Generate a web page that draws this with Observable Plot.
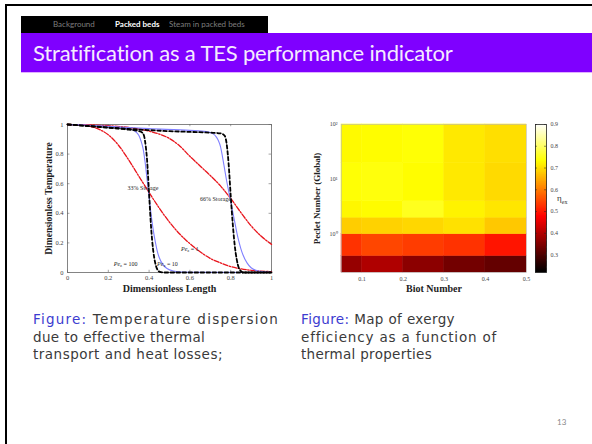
<!DOCTYPE html>
<html><head><meta charset="utf-8">
<script src="https://cdn.jsdelivr.net/npm/d3@7"></script>
<script src="https://cdn.jsdelivr.net/npm/@observablehq/plot@0.6"></script>
<style>
html,body{margin:0;padding:0;background:#fff;}
#slide{position:relative;width:592px;height:444px;overflow:hidden;background:#fff;font-family:Lato,"DejaVu Sans",sans-serif;}
.abs{position:absolute;white-space:nowrap;}
#border{left:5px;top:4px;width:620px;height:480px;border-left:2px solid #000;border-top:2px solid #000;}
#crumb{left:21px;top:16px;width:247px;height:17px;background:#000;font-size:8px;line-height:17px;color:#7d7d7d;}
#crumb span{position:absolute;top:0;}
#band{left:21px;top:33px;width:600px;height:39px;background:#7f00ff;border-bottom:1px solid #e0b0ff;}
#title{left:33px;top:42px;color:#f5eaff;font-size:22px;line-height:22px;}
.cap{font-family:"DejaVu Sans",sans-serif;font-size:13.5px;line-height:17.5px;color:#3a3a3a;}
.fig{color:#3c3cd0;}
#pagenum{left:557px;top:417px;font-size:8px;color:#888;}
#eta{left:557px;top:193px;font-family:"Liberation Serif",serif;font-size:9px;color:#333;}
#eta sub{font-size:6px;}
svg{position:absolute;}
</style>
</head><body>
<div id="slide">
  <div id="border" class="abs"></div>
  <div id="crumb" class="abs"><span style="left:32px">Background</span><span style="left:94px;color:#fff;font-weight:bold">Packed beds</span><span style="left:148px">Steam in packed beds</span></div>
  <div id="band" class="abs"></div>
  <div id="title" class="abs">Stratification as a TES performance indicator</div>
  <div id="c1" class="abs cap" style="left:33px;top:311px"><div class="l" data-w="246"><span class="fig">Figure:</span> Temperature dispersion</div><div class="l" data-w="172">due to effective thermal</div><div class="l" data-w="190">transport and heat losses;</div></div>
  <div id="c2" class="abs cap" style="left:301px;top:311px"><div class="l" data-w="154"><span class="fig">Figure:</span> Map of exergy</div><div class="l" data-w="196">efficiency as a function of</div><div class="l" data-w="131">thermal properties</div></div>
  <div id="pagenum" class="abs">13</div>
  <div id="eta" class="abs">η<sub>ex</sub></div>
</div>
<script>
// ---------- Left chart data: dimensionless temperature profiles [length, temperature] ----------
const pe1_33 = [[0,1],[0.05,0.998],[0.1,0.99],[0.15,0.97],[0.2,0.93],[0.25,0.86],[0.3,0.76],[0.35,0.65],[0.4,0.54],[0.45,0.435],[0.5,0.34],[0.55,0.26],[0.6,0.195],[0.65,0.14],[0.7,0.095],[0.75,0.065],[0.8,0.04],[0.85,0.025],[0.9,0.015],[1,0.006]];
const pe1_66 = [[0,1],[0.1,0.998],[0.2,0.992],[0.3,0.98],[0.35,0.97],[0.4,0.955],[0.45,0.935],[0.5,0.905],[0.55,0.855],[0.6,0.785],[0.65,0.72],[0.7,0.655],[0.75,0.585],[0.8,0.5],[0.85,0.405],[0.9,0.315],[0.95,0.245],[1,0.19]];
const pe10_33 = [[0,1],[0.1,0.995],[0.2,0.985],[0.3,0.97],[0.33,0.955],[0.35,0.925],[0.36,0.89],[0.37,0.84],[0.38,0.75],[0.39,0.63],[0.4,0.51],[0.41,0.39],[0.42,0.29],[0.43,0.21],[0.44,0.145],[0.45,0.1],[0.47,0.05],[0.49,0.025],[0.52,0.01],[0.56,0.003],[0.65,0.001],[1,0]];
const pe10_66 = [[0,1],[0.2,0.988],[0.4,0.972],[0.6,0.96],[0.68,0.952],[0.71,0.94],[0.73,0.915],[0.74,0.89],[0.75,0.85],[0.76,0.78],[0.77,0.7],[0.78,0.62],[0.79,0.55],[0.8,0.48],[0.81,0.41],[0.82,0.34],[0.83,0.27],[0.84,0.21],[0.85,0.16],[0.86,0.12],[0.88,0.065],[0.9,0.032],[0.93,0.012],[0.97,0.004],[1,0.002]];
const pe100_33 = [[0,1],[0.1,0.99],[0.2,0.978],[0.3,0.965],[0.35,0.955],[0.37,0.94],[0.38,0.89],[0.39,0.76],[0.4,0.53],[0.41,0.3],[0.42,0.15],[0.43,0.065],[0.44,0.022],[0.45,0.006],[0.47,0],[1,0]];
const pe100_66 = [[0,1],[0.1,0.99],[0.2,0.98],[0.3,0.97],[0.4,0.962],[0.5,0.955],[0.6,0.95],[0.7,0.945],[0.75,0.94],[0.77,0.925],[0.78,0.87],[0.79,0.73],[0.8,0.52],[0.81,0.33],[0.82,0.18],[0.83,0.085],[0.84,0.03],[0.85,0.01],[0.86,0],[1,0]];
const lenTicks = [0, 0.2, 0.4, 0.6, 0.8, 1];
const tempTicks = [0, 0.2, 0.4, 0.6, 0.8, 1];
const curveLabels = [
  {x: 0.37, y: 0.57, text: "33% Storage", anchor: "end"},
  {x: 0.725, y: 0.495, text: "66% Storage", anchor: "start"},
  {x: 0.6, y: 0.16, text: "Pe_z = 1", anchor: "start"},
  {x: 0.49, y: 0.06, text: "Pe_z = 10", anchor: "start"},
  {x: 0.285, y: 0.06, text: "Pe_z = 100", anchor: "start"}
];

// ---------- Right chart data: exergy efficiency map ----------
const biotEdges = [0.05, 0.1, 0.2, 0.3, 0.4, 0.5];
const pecletEdges = [0.2, 0.4, 1, 2, 4, 20, 100];
const effRow1 = [0.37, 0.395, 0.36, 0.335, 0.32];   // Pe 0.2–0.4
const effRow2 = [0.525, 0.545, 0.535, 0.525, 0.495]; // Pe 0.4–1
const effRow3 = [0.68, 0.685, 0.69, 0.70, 0.675];    // Pe 1–2
const effRow4 = [0.722, 0.727, 0.75, 0.718, 0.705];  // Pe 2–4
const effRow5 = [0.733, 0.738, 0.728, 0.708, 0.693]; // Pe 4–20
const effRow6 = [0.725, 0.728, 0.733, 0.708, 0.698]; // Pe 20–100
const biotTicks = [0.1, 0.2, 0.3, 0.4, 0.5];
const pecletTicks = [1, 10, 100];
const effTicks = [0.3, 0.4, 0.5, 0.6, 0.7, 0.8, 0.9];

const slide = document.getElementById("slide");
const serif = "'Liberation Serif', 'Times New Roman', serif";

// ---------- Left chart ----------
const ax = d => d[0], ay = d => d[1];
const tk = {stroke: "#666", strokeWidth: 0.6};
const left = Plot.plot({
  width: 260, height: 195,
  marginLeft: 47, marginRight: 9, marginTop: 14, marginBottom: 33,
  style: {fontFamily: serif, fontSize: "6.5px", color: "#444", background: "white"},
  x: {domain: [0, 1]},
  y: {domain: [0, 1]},
  marks: [
    Plot.frame({stroke: "#666", strokeWidth: 0.8}),
    Plot.ruleX(lenTicks, {x: d => d, y1: 0, y2: 0.015, ...tk}),
    Plot.ruleX(lenTicks, {x: d => d, y1: 0.985, y2: 1, ...tk}),
    Plot.ruleY(tempTicks, {y: d => d, x1: 0, x2: 0.012, ...tk}),
    Plot.ruleY(tempTicks, {y: d => d, x1: 0.988, x2: 1, ...tk}),
    Plot.line(pe1_33, {x: ax, y: ay, curve: "monotone-x", stroke: "#e8141c", strokeWidth: 1.3, strokeDasharray: "5,1.5,1.5,1.5"}),
    Plot.line(pe1_66, {x: ax, y: ay, curve: "monotone-x", stroke: "#e8141c", strokeWidth: 1.3, strokeDasharray: "5,1.5,1.5,1.5"}),
    Plot.line(pe10_33, {x: ax, y: ay, curve: "monotone-x", stroke: "#8080ff", strokeWidth: 1.1}),
    Plot.line(pe10_66, {x: ax, y: ay, curve: "monotone-x", stroke: "#8080ff", strokeWidth: 1.1}),
    Plot.line(pe100_33, {x: ax, y: ay, curve: "monotone-x", stroke: "#000", strokeWidth: 1.8, strokeDasharray: "3.5,2.5"}),
    Plot.line(pe100_66, {x: ax, y: ay, curve: "monotone-x", stroke: "#000", strokeWidth: 1.8, strokeDasharray: "3.5,2.5"}),
    Plot.axisX(lenTicks, {label: null, tickSize: 0, tickPadding: 3, tickFormat: d => String(d)}),
    Plot.axisY(tempTicks, {label: null, tickSize: 0, tickPadding: 4, tickFormat: d => String(d)}),
    Plot.text(curveLabels, {x: "x", y: "y", text: "text", textAnchor: d => d.anchor, fontSize: 6, fill: "#222"}),
    Plot.text(["Dimensionless Length"], {frameAnchor: "bottom", dy: 19, textAnchor: "middle", text: d => d, fontSize: 10, fontWeight: "bold", fill: "#222"}),
    Plot.text(["Dimensionless Temperature"], {frameAnchor: "left", dx: -19, rotate: -90, textAnchor: "middle", text: d => d, fontSize: 9.5, fontWeight: "bold", fill: "#222"})
  ]
});
d3.select(left).selectAll("text").each(function() {
  const t = this.textContent;
  if (t.startsWith("Pe_z")) {
    const rest = t.slice(4);
    const s = d3.select(this); s.text("");
    s.append("tspan").attr("font-style", "italic").text("Pe");
    s.append("tspan").attr("font-size", "4.5px").attr("dy", "1.5").text("z");
    s.append("tspan").attr("dy", "-1.5").text(rest);
  }
});
left.style.left = "20px"; left.style.top = "110px";
slide.appendChild(left);

// ---------- Right chart: heatmap ----------
const effRows = [effRow1, effRow2, effRow3, effRow4, effRow5, effRow6];
const cells = [];
effRows.forEach((row, r) => row.forEach((v, c) => cells.push({
  b1: biotEdges[c], b2: biotEdges[c + 1], p1: pecletEdges[r], p2: pecletEdges[r + 1], eff: v
})));
const hot = {type: "linear", domain: [0.22, 0.475, 0.73, 0.9], range: ["#000000", "#ff0000", "#ffff00", "#ffffff"], interpolate: "rgb", clamp: true};
const sup = {0: "⁰", 1: "¹", 2: "²"};
const heat = Plot.plot({
  width: 240, height: 195,
  marginLeft: 46, marginRight: 9, marginTop: 14, marginBottom: 33,
  style: {fontFamily: serif, fontSize: "6px", color: "#444", background: "white"},
  x: {domain: [0.05, 0.5]},
  y: {type: "log", domain: [0.2, 100]},
  color: hot,
  marks: [
    Plot.rect(cells, {x1: "b1", x2: "b2", y1: "p1", y2: "p2", fill: "eff", stroke: "eff", strokeWidth: 0.5}),
    Plot.frame({stroke: "#bbb", strokeWidth: 0.6}),
    Plot.axisX(biotTicks, {label: null, tickSize: 0, tickPadding: 4, tickFormat: d => String(d)}),
    Plot.axisY(pecletTicks, {label: null, tickSize: 0, tickPadding: 4, tickFormat: d => "10" + sup[Math.round(Math.log10(d))]}),
    Plot.text(["Biot Number"], {frameAnchor: "bottom", dy: 19, textAnchor: "middle", text: d => d, fontSize: 10, fontWeight: "bold", fill: "#222"}),
    Plot.text(["Peclet Number (Global)"], {frameAnchor: "left", dx: -24, rotate: -90, textAnchor: "middle", text: d => d, fontSize: 9, fontWeight: "bold", fill: "#222"})
  ]
});
heat.style.left = "295px"; heat.style.top = "110px";
slide.appendChild(heat);

// ---------- Colorbar (legend ramp) ----------
const ramp = d3.range(0.22, 0.9, 0.004).map(v => ({v0: v, v1: Math.min(0.9, v + 0.006), v}));
const bar = Plot.plot({
  width: 60, height: 195,
  marginLeft: 10, marginRight: 39, marginTop: 14, marginBottom: 33,
  style: {fontFamily: serif, fontSize: "6px", color: "#444", background: "transparent"},
  x: {domain: [0, 1], axis: null},
  y: {domain: [0.22, 0.9]},
  color: hot,
  marks: [
    Plot.rect(ramp, {x1: 0, x2: 1, y1: "v0", y2: "v1", fill: "v", stroke: "v", strokeWidth: 0.4, shapeRendering: "crispEdges"}),
    Plot.frame({stroke: "#222", strokeWidth: 0.8}),
    Plot.ruleY(effTicks, {y: d => d, x1: 0, x2: 0.18, stroke: "#222", strokeWidth: 0.5}),
    Plot.ruleY(effTicks, {y: d => d, x1: 0.82, x2: 1, stroke: "#222", strokeWidth: 0.5}),
    Plot.axisY(effTicks, {anchor: "right", label: null, tickSize: 0, tickPadding: 4, tickFormat: d => String(d)})
  ]
});
bar.style.left = "525px"; bar.style.top = "110px";
slide.appendChild(bar);

// ---------- fit slide texts ----------
function fitAll() {
  document.querySelectorAll(".l").forEach(el => {
    el.style.letterSpacing = "0px";
    el.style.display = "inline-block";
    const w = el.getBoundingClientRect().width;
    const n = el.textContent.length;
    el.style.letterSpacing = ((+el.dataset.w - w) / n) + "px";
    el.style.display = "block";
  });
  const t = document.getElementById("title");
  t.style.letterSpacing = "0px";
  const tw = t.getBoundingClientRect().width;
  t.style.letterSpacing = ((420 - tw) / t.textContent.length) + "px";
}
fitAll();
if (document.fonts) document.fonts.ready.then(fitAll);
</script>
</body></html>
